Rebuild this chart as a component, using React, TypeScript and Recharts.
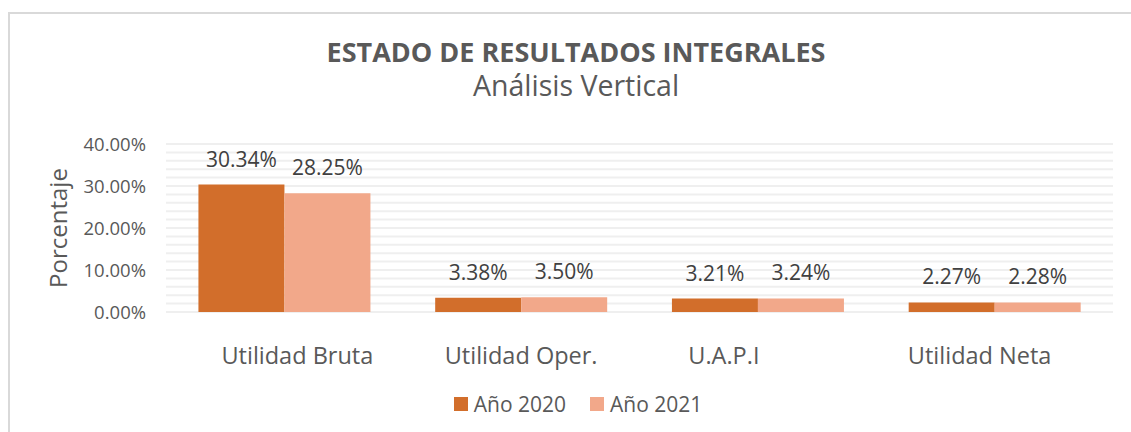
import { Bar, BarChart, CartesianGrid, LabelList, Legend, XAxis, YAxis } from "recharts";

const categories = ["Utilidad Bruta", "Utilidad Oper.", "U.A.P.I", "Utilidad Neta"];
const year2020 = [0.3034, 0.0338, 0.0321, 0.0227];
const year2021 = [0.2825, 0.035, 0.0324, 0.0228];
// every 2% gets a gridline, only the 10% steps get a label
const gridValues = [
    0, 0.02, 0.04, 0.06, 0.08, 0.1, 0.12, 0.14, 0.16, 0.18, 0.2,
    0.22, 0.24, 0.26, 0.28, 0.3, 0.32, 0.34, 0.36, 0.38, 0.4,
];
const labelledTicks = [0, 0.1, 0.2, 0.3, 0.4];
// the category labels in the original sit a bit off-centre
const tickNudge = [13, 0, -34, -15];

const data = categories.map((name, i) => ({
    name,
    y2020: year2020[i],
    y2021: year2021[i],
}));

const FONT = "'Open Sans', sans-serif";
const TEXT = "#595959";
const pct = (v: number) => (v * 100).toFixed(2) + "%";
const yLabel = (v: number) =>
    labelledTicks.some((t) => Math.abs(t - v) < 1e-9) ? pct(v) : "";

function CategoryTick({ x, y, payload, index }: any) {
    return (
        <text
            x={x + (tickNudge[index] || 0)}
            y={y}
            dy={44}
            textAnchor="middle"
            fill={TEXT}
            fontSize={23.5}
            fontFamily={FONT}
        >
            {payload.value}
        </text>
    );
}

function LegendBox({ payload }: any) {
    return (
        <div style={{ display: "flex", justifyContent: "center", gap: 24 }}>
            {(payload || []).map((p: any) => (
                <div key={p.value} style={{ display: "flex", alignItems: "center" }}>
                    <span
                        style={{
                            width: 14,
                            height: 14,
                            background: p.color,
                            marginRight: 6,
                            display: "inline-block",
                        }}
                    />
                    <span style={{ fontSize: 21, color: TEXT, fontFamily: FONT }}>
                        {p.value}
                    </span>
                </div>
            ))}
        </div>
    );
}

export default function App() {
    return (
        <div
            style={{
                position: "fixed",
                left: 0,
                top: 0,
                width: 1131,
                height: 432,
                overflow: "hidden",
                background: "#fff",
                fontFamily: FONT,
            }}
        >
            <div
                style={{
                    position: "absolute",
                    left: 8,
                    top: 12,
                    width: 1300,
                    height: 600,
                    borderTop: "2px solid #d9d9d9",
                    borderLeft: "2px solid #d9d9d9",
                }}
            />
            <div
                style={{
                    position: "absolute",
                    left: 8,
                    width: 1136,
                    top: 38,
                    textAlign: "center",
                    fontSize: 27,
                    lineHeight: "27px",
                    fontWeight: 700,
                    color: TEXT,
                }}
            >
                ESTADO DE RESULTADOS INTEGRALES
            </div>
            <div
                style={{
                    position: "absolute",
                    left: 8,
                    width: 1136,
                    top: 71,
                    textAlign: "center",
                    fontSize: 28.5,
                    lineHeight: "28.5px",
                    color: TEXT,
                }}
            >
                Análisis Vertical
            </div>
            <div style={{ position: "absolute", left: 0, top: 0 }}>
                <BarChart
                    width={1131}
                    height={432}
                    data={data}
                    margin={{ top: 144, right: 18, left: 0, bottom: 60 }}
                    barCategoryGap="13.7%"
                    barGap={0}
                >
                    <CartesianGrid vertical={false} stroke="#efefef" strokeWidth={2} />
                    <XAxis
                        dataKey="name"
                        height={60}
                        axisLine={false}
                        tickLine={false}
                        tick={<CategoryTick />}
                        interval={0}
                    />
                    <YAxis
                        width={166}
                        domain={[0, 0.4]}
                        ticks={gridValues}
                        interval={0}
                        tickFormatter={yLabel}
                        axisLine={false}
                        tickLine={false}
                        tickMargin={14}
                        tick={{ fontSize: 18.5, fill: TEXT, fontFamily: FONT }}
                        label={{
                            value: "Porcentaje",
                            angle: -90,
                            position: "insideLeft",
                            offset: 58,
                            style: {
                                textAnchor: "middle",
                                fontSize: 24,
                                fill: TEXT,
                                fontFamily: FONT,
                            },
                        }}
                    />
                    <Legend
                        verticalAlign="middle"
                        align="center"
                        wrapperStyle={{ top: 390, left: 8, width: 1140 }}
                        content={<LegendBox />}
                    />
                    <Bar dataKey="y2020" name="Año 2020" fill="#d26e2b" isAnimationActive={false}>
                        <LabelList
                            dataKey="y2020"
                            position="top"
                            offset={18}
                            formatter={(v: any) => pct(v)}
                            style={{ fontSize: 21, fill: "#404040", fontFamily: FONT }}
                        />
                    </Bar>
                    <Bar dataKey="y2021" name="Año 2021" fill="#f2a88a" isAnimationActive={false}>
                        <LabelList
                            dataKey="y2021"
                            position="top"
                            offset={18}
                            formatter={(v: any) => pct(v)}
                            style={{ fontSize: 21, fill: "#404040", fontFamily: FONT }}
                        />
                    </Bar>
                </BarChart>
            </div>
        </div>
    );
}
